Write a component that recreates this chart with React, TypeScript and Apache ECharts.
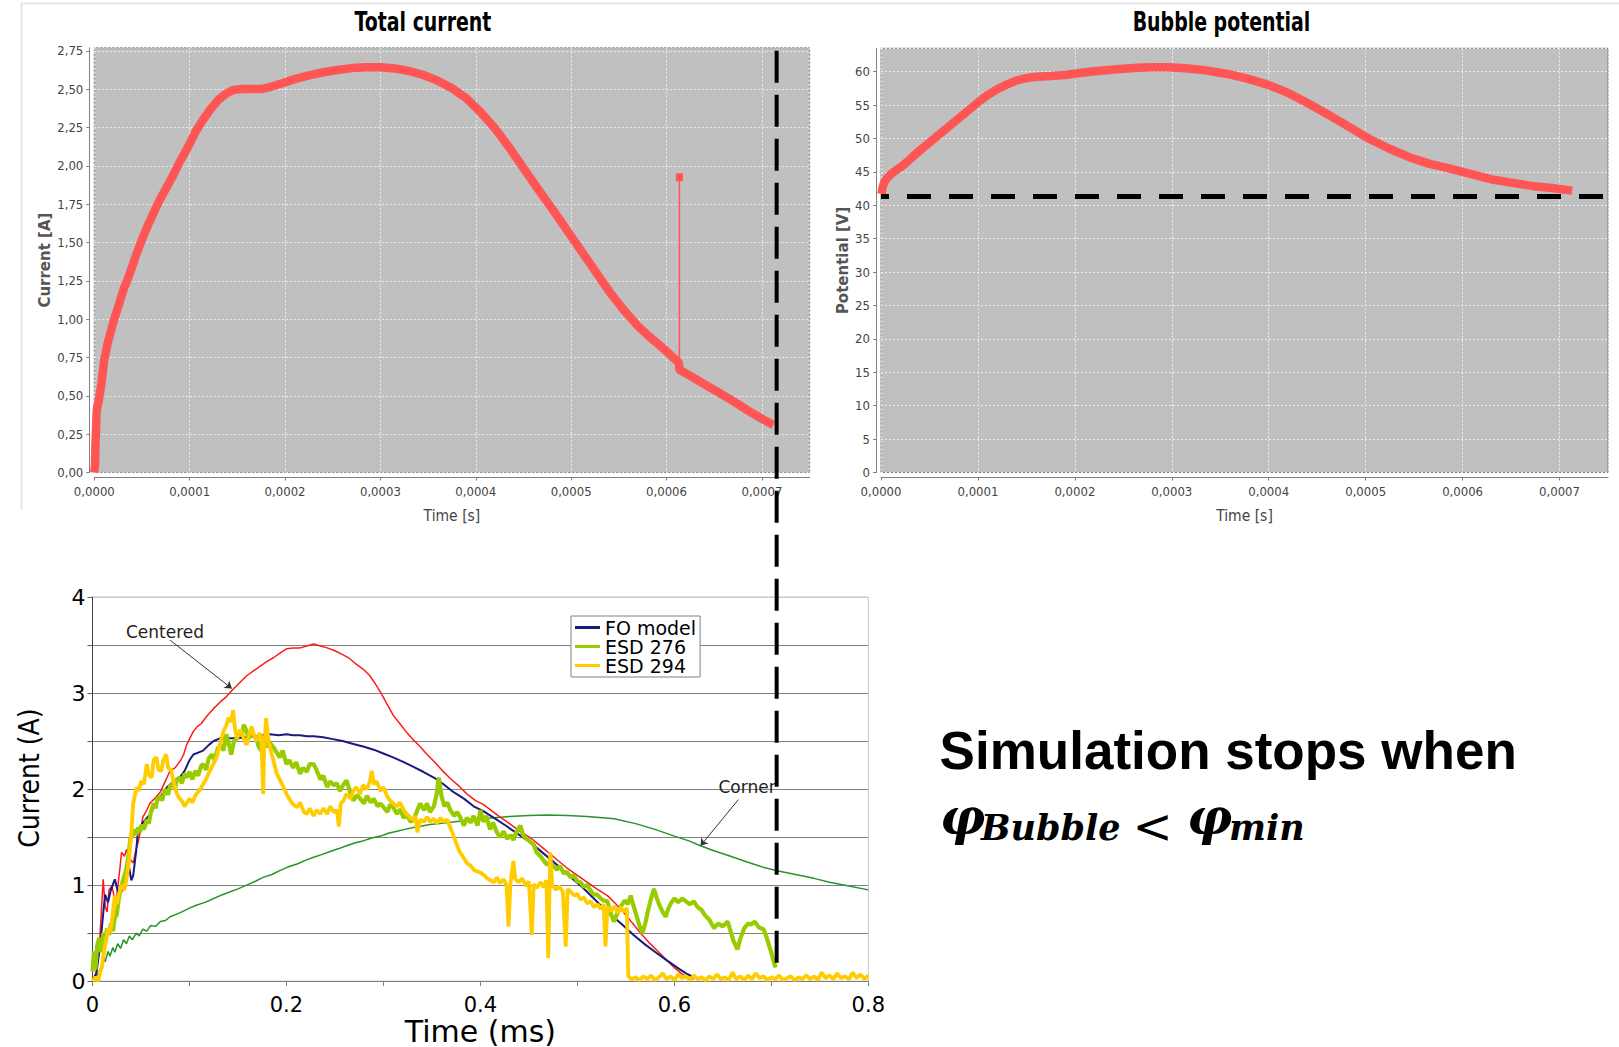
import React, { useEffect, useRef } from 'react';
import * as echarts from 'echarts';

const NARROW = "'Liberation Sans Narrow', 'DejaVu Sans Condensed', 'Arial Narrow', sans-serif";
const WIDE = "'DejaVu Sans', Verdana, sans-serif";
const ARIAL = "'Liberation Sans', Arial, sans-serif";
const SERIF = "'DejaVu Serif', 'Liberation Serif', serif";

// ---------- Top-left: Total current (time [s], current [A]) ----------
const totalCurrent: [number, number][] = [
  [0, 0.0], [0.0000008, 0.06], [0.0000012, 0.18], [0.0000018, 0.28], [0.0000025, 0.4], [0.0000035, 0.44],
  [0.0000048, 0.47], [0.000006, 0.52], [0.0000075, 0.58], [0.000009, 0.66], [0.0000105, 0.74], [0.000012, 0.78],
  [0.0000135, 0.83], [0.000016, 0.89], [0.0000195, 0.97], [0.000023, 1.04], [0.000027, 1.12], [0.000031, 1.2],
  [0.000035, 1.26], [0.000039, 1.33], [0.000044, 1.42], [0.00005, 1.52], [0.000056, 1.61], [0.000062, 1.69],
  [0.000068, 1.77], [0.000075, 1.85], [0.000082, 1.93], [0.00009, 2.03], [0.000098, 2.12], [0.000106, 2.22],
  [0.000114, 2.3], [0.000122, 2.37], [0.00013, 2.43], [0.000138, 2.47], [0.000146, 2.495], [0.000155, 2.5],
  [0.000165, 2.5], [0.000175, 2.5], [0.000185, 2.515], [0.000198, 2.54], [0.00021, 2.565], [0.000225, 2.59],
  [0.00024, 2.61], [0.000255, 2.625], [0.00027, 2.637], [0.000285, 2.643], [0.0003, 2.642], [0.000315, 2.635],
  [0.00033, 2.618], [0.000345, 2.592], [0.00036, 2.555], [0.000375, 2.505], [0.00039, 2.44], [0.000405, 2.35],
  [0.00042, 2.245], [0.000435, 2.12], [0.00045, 1.985], [0.000465, 1.85], [0.00048, 1.72], [0.000495, 1.585],
  [0.00051, 1.45], [0.000525, 1.315], [0.00054, 1.18], [0.000555, 1.06], [0.00057, 0.955], [0.000585, 0.87],
  [0.0006, 0.79], [0.000613, 0.715], [0.0006135, 0.67], [0.000625, 0.63], [0.00064, 0.575], [0.000655, 0.52],
  [0.00067, 0.465], [0.000685, 0.405], [0.0007, 0.35], [0.000712, 0.31],
];
const currentSpike: [number, number][] = [[0.0006135, 0.715], [0.0006135, 1.925]];

// ---------- Top-right: Bubble potential (time [s], potential [V]) ----------
const bubblePotential: [number, number][] = [
  [0.0000005, 41.7], [0.0000015, 42.6], [0.0000025, 43.1], [0.000004, 43.6], [0.000006, 44.0], [0.00001, 44.6],
  [0.000015, 45.2], [0.000023, 46.0], [0.00003, 46.9], [0.00004, 48.2], [0.00005, 49.4], [0.00006, 50.6],
  [0.00007, 51.8], [0.00008, 53.0], [0.00009, 54.2], [0.0001, 55.4], [0.00011, 56.5], [0.00012, 57.4],
  [0.00013, 58.1], [0.00014, 58.7], [0.00015, 59.05], [0.00016, 59.25], [0.000175, 59.35], [0.00019, 59.5],
  [0.000205, 59.8], [0.00022, 60.05], [0.000235, 60.25], [0.00025, 60.45], [0.000265, 60.6], [0.00028, 60.65],
  [0.000295, 60.65], [0.000314, 60.5], [0.000335, 60.2], [0.000356, 59.7], [0.000377, 59.0], [0.000398, 58.1],
  [0.000419, 56.9], [0.00044, 55.3], [0.000461, 53.6], [0.000482, 51.8], [0.000503, 50.0], [0.000524, 48.5],
  [0.000545, 47.2], [0.000566, 46.2], [0.000587, 45.5], [0.000608, 44.7], [0.000629, 43.9], [0.00065, 43.4],
  [0.000671, 42.9], [0.000692, 42.6], [0.000713, 42.2],
];
const PHI_MIN_V = 41.3;

// ---------- Bottom: measured / FO model currents (time [ms], current [A]) ----------
const centered: [number, number][] = [
  [0, 0], [0.004, 0.1], [0.007, 0.35], [0.009, 0.7], [0.011, 1.06], [0.013, 0.78], [0.015, 0.72], [0.017, 0.95],
  [0.02, 0.99], [0.023, 0.85], [0.025, 0.89], [0.028, 1.15], [0.03, 1.34], [0.033, 1.3], [0.035, 1.37],
  [0.038, 1.28], [0.042, 1.23], [0.045, 1.38], [0.047, 1.44], [0.05, 1.6], [0.052, 1.71], [0.056, 1.78],
  [0.059, 1.85], [0.064, 1.9], [0.07, 1.97], [0.075, 2.08], [0.08, 2.19], [0.085, 2.22], [0.088, 2.26],
  [0.091, 2.3], [0.094, 2.36], [0.097, 2.46], [0.1, 2.52], [0.104, 2.6], [0.108, 2.65], [0.112, 2.68],
  [0.118, 2.76], [0.125, 2.84], [0.132, 2.91], [0.138, 2.96], [0.145, 3.04], [0.152, 3.11], [0.159, 3.18],
  [0.166, 3.23], [0.173, 3.28], [0.18, 3.33], [0.187, 3.37], [0.194, 3.42], [0.2, 3.46], [0.207, 3.47],
  [0.214, 3.47], [0.221, 3.49], [0.228, 3.51], [0.235, 3.49], [0.242, 3.47], [0.25, 3.44], [0.258, 3.4],
  [0.265, 3.36], [0.272, 3.3], [0.279, 3.25], [0.286, 3.18], [0.292, 3.09], [0.298, 2.99], [0.304, 2.88],
  [0.31, 2.77], [0.317, 2.68], [0.324, 2.59], [0.331, 2.51], [0.338, 2.44], [0.345, 2.36], [0.352, 2.29],
  [0.36, 2.2], [0.369, 2.11], [0.378, 2.03], [0.386, 1.95], [0.395, 1.88], [0.403, 1.84], [0.412, 1.77],
  [0.42, 1.71], [0.43, 1.64], [0.441, 1.56], [0.452, 1.49], [0.464, 1.39], [0.476, 1.29], [0.489, 1.18],
  [0.5, 1.1], [0.51, 1.03], [0.52, 0.96], [0.531, 0.89], [0.54, 0.8], [0.549, 0.7], [0.558, 0.59],
  [0.566, 0.49], [0.575, 0.39], [0.584, 0.3], [0.593, 0.21], [0.6, 0.14], [0.607, 0.08], [0.613, 0.04],
  [0.62, 0.02],
];
const foModel: [number, number][] = [
  [0, 0], [0.004, 0.08], [0.008, 0.38], [0.011, 0.7], [0.013, 0.9], [0.016, 0.82], [0.019, 0.95], [0.023, 1.06],
  [0.027, 0.9], [0.032, 0.96], [0.035, 1.2], [0.037, 1.23], [0.04, 1.05], [0.042, 1.1], [0.045, 1.35],
  [0.047, 1.58], [0.05, 1.62], [0.052, 1.65], [0.058, 1.72], [0.066, 1.85], [0.072, 1.95], [0.077, 2.02],
  [0.084, 2.08], [0.09, 2.12], [0.095, 2.19], [0.1, 2.3], [0.104, 2.36], [0.109, 2.38], [0.114, 2.4],
  [0.12, 2.46], [0.125, 2.5], [0.132, 2.53], [0.14, 2.53], [0.149, 2.53], [0.158, 2.54], [0.166, 2.55],
  [0.175, 2.56], [0.183, 2.57], [0.192, 2.56], [0.2, 2.57], [0.207, 2.56], [0.214, 2.56], [0.221, 2.55],
  [0.228, 2.55], [0.238, 2.54], [0.248, 2.52], [0.258, 2.5], [0.269, 2.47], [0.28, 2.44], [0.29, 2.41],
  [0.3, 2.37], [0.31, 2.33], [0.321, 2.28], [0.331, 2.23], [0.341, 2.18], [0.352, 2.12], [0.362, 2.05],
  [0.372, 1.97], [0.383, 1.9], [0.393, 1.82], [0.403, 1.77], [0.414, 1.7], [0.426, 1.62], [0.439, 1.53],
  [0.452, 1.44], [0.465, 1.33], [0.478, 1.22], [0.491, 1.1], [0.505, 0.98], [0.518, 0.85], [0.531, 0.72],
  [0.545, 0.6], [0.558, 0.48], [0.57, 0.38], [0.582, 0.29], [0.593, 0.21], [0.603, 0.14], [0.612, 0.08],
  [0.62, 0.04],
];
const corner: [number, number][] = [
  [0, 0], [0.005, 0.06], [0.008, 0.12], [0.011, 0.25], [0.013, 0.2], [0.016, 0.31], [0.018, 0.26], [0.021, 0.35],
  [0.023, 0.3], [0.026, 0.39], [0.029, 0.34], [0.032, 0.43], [0.035, 0.39], [0.038, 0.47], [0.041, 0.43],
  [0.045, 0.5], [0.048, 0.47], [0.052, 0.54], [0.056, 0.52], [0.06, 0.58], [0.065, 0.57], [0.07, 0.62],
  [0.075, 0.63], [0.08, 0.67], [0.09, 0.71], [0.1, 0.76], [0.107, 0.79], [0.116, 0.82], [0.125, 0.86],
  [0.134, 0.9], [0.142, 0.93], [0.15, 0.96], [0.159, 1.0], [0.168, 1.04], [0.176, 1.08], [0.185, 1.11],
  [0.193, 1.15], [0.202, 1.19], [0.211, 1.22], [0.22, 1.26], [0.228, 1.29], [0.237, 1.32], [0.245, 1.35],
  [0.254, 1.38], [0.262, 1.41], [0.271, 1.44], [0.279, 1.46], [0.288, 1.49], [0.297, 1.51], [0.305, 1.54],
  [0.314, 1.56], [0.322, 1.58], [0.331, 1.6], [0.348, 1.63], [0.365, 1.65], [0.383, 1.67], [0.4, 1.69],
  [0.414, 1.7], [0.43, 1.715], [0.45, 1.725], [0.469, 1.73], [0.49, 1.725], [0.51, 1.715], [0.538, 1.69],
  [0.56, 1.64], [0.58, 1.58], [0.6, 1.51], [0.615, 1.46], [0.627, 1.41], [0.64, 1.36], [0.655, 1.31],
  [0.675, 1.24], [0.69, 1.19], [0.706, 1.15], [0.725, 1.11], [0.744, 1.07], [0.76, 1.03], [0.78, 0.99],
  [0.8, 0.95],
];
const esd276: [number, number][] = [
  [0, 0.1], [0.0015, 0.31], [0.003, 0.12], [0.005, 0.38], [0.007, 0.45], [0.009, 0.3], [0.011, 0.5], [0.013, 0.42],
  [0.015, 0.55], [0.017, 0.48], [0.019, 0.6], [0.021, 0.52], [0.023, 0.66], [0.025, 0.69], [0.027, 0.85],
  [0.029, 0.95], [0.031, 1.03], [0.033, 1.1], [0.035, 1.17], [0.037, 1.3], [0.039, 1.48], [0.041, 1.52],
  [0.043, 1.58], [0.045, 1.52], [0.047, 1.6], [0.049, 1.55], [0.051, 1.63], [0.053, 1.58], [0.056, 1.68],
  [0.058, 1.64], [0.06, 1.75], [0.063, 1.85], [0.065, 1.8], [0.067, 1.9], [0.07, 1.92], [0.072, 1.88],
  [0.074, 1.98], [0.076, 1.99], [0.078, 1.94], [0.08, 2.04], [0.083, 2.05], [0.085, 2.0], [0.087, 2.1],
  [0.09, 2.12], [0.092, 2.06], [0.095, 2.16], [0.097, 2.12], [0.1, 2.18], [0.103, 2.1], [0.106, 2.19],
  [0.109, 2.14], [0.112, 2.24], [0.114, 2.26], [0.117, 2.2], [0.12, 2.32], [0.123, 2.36], [0.126, 2.3],
  [0.129, 2.42], [0.132, 2.46], [0.135, 2.4], [0.138, 2.57], [0.141, 2.45], [0.143, 2.36], [0.146, 2.5],
  [0.149, 2.53], [0.152, 2.6], [0.154, 2.55], [0.156, 2.67], [0.159, 2.6], [0.161, 2.52], [0.163, 2.6],
  [0.166, 2.56], [0.169, 2.53], [0.171, 2.45], [0.174, 2.4], [0.177, 2.5], [0.18, 2.44], [0.183, 2.48],
  [0.187, 2.43], [0.19, 2.38], [0.193, 2.33], [0.196, 2.4], [0.2, 2.26], [0.203, 2.3], [0.207, 2.22],
  [0.21, 2.28], [0.214, 2.16], [0.217, 2.22], [0.221, 2.18], [0.224, 2.26], [0.228, 2.26], [0.231, 2.2],
  [0.235, 2.1], [0.238, 2.14], [0.242, 2.02], [0.245, 2.08], [0.249, 2.04], [0.252, 2.06], [0.255, 1.98],
  [0.259, 2.05], [0.262, 2.09], [0.266, 1.96], [0.269, 1.88], [0.273, 1.94], [0.276, 1.9], [0.28, 1.85],
  [0.283, 1.93], [0.287, 1.86], [0.29, 1.9], [0.294, 1.82], [0.297, 1.85], [0.301, 1.8], [0.304, 1.76],
  [0.307, 1.84], [0.31, 1.81], [0.314, 1.74], [0.317, 1.79], [0.321, 1.7], [0.324, 1.74], [0.328, 1.66],
  [0.331, 1.68], [0.335, 1.78], [0.338, 1.85], [0.342, 1.78], [0.345, 1.85], [0.348, 1.76], [0.352, 1.82],
  [0.355, 1.95], [0.357, 2.12], [0.36, 1.92], [0.363, 1.82], [0.366, 1.86], [0.369, 1.78], [0.373, 1.72],
  [0.376, 1.76], [0.379, 1.71], [0.383, 1.62], [0.386, 1.7], [0.39, 1.65], [0.393, 1.72], [0.397, 1.62],
  [0.4, 1.78], [0.403, 1.66], [0.406, 1.72], [0.41, 1.58], [0.413, 1.65], [0.417, 1.55], [0.42, 1.5],
  [0.424, 1.56], [0.4275, 1.48], [0.431, 1.52], [0.434, 1.47], [0.437, 1.55], [0.4413, 1.62], [0.444, 1.52],
  [0.448, 1.48], [0.4516, 1.45], [0.455, 1.42], [0.458, 1.34], [0.462, 1.3], [0.465, 1.26], [0.4688, 1.21],
  [0.472, 1.24], [0.475, 1.2], [0.479, 1.16], [0.482, 1.2], [0.486, 1.12], [0.489, 1.14], [0.493, 1.08],
  [0.496, 1.1], [0.5, 1.04], [0.503, 1.03], [0.507, 0.98], [0.51, 1.0], [0.514, 0.94], [0.517, 0.9],
  [0.5204, 0.9], [0.524, 0.86], [0.527, 0.84], [0.531, 0.83], [0.534, 0.72], [0.5376, 0.62], [0.541, 0.7],
  [0.545, 0.78], [0.549, 0.84], [0.552, 0.8], [0.555, 0.89], [0.558, 0.78], [0.561, 0.68], [0.564, 0.58],
  [0.567, 0.5], [0.57, 0.6], [0.573, 0.74], [0.576, 0.86], [0.579, 0.96], [0.582, 0.86], [0.585, 0.78],
  [0.588, 0.72], [0.591, 0.67], [0.594, 0.76], [0.597, 0.82], [0.6, 0.86], [0.604, 0.82], [0.608, 0.86],
  [0.612, 0.83], [0.616, 0.8], [0.62, 0.83], [0.624, 0.77], [0.628, 0.74], [0.632, 0.68], [0.636, 0.64],
  [0.641, 0.55], [0.645, 0.6], [0.65, 0.57], [0.655, 0.62], [0.658, 0.52], [0.661, 0.42], [0.665, 0.33],
  [0.668, 0.44], [0.672, 0.55], [0.676, 0.6], [0.679, 0.59], [0.683, 0.62], [0.687, 0.56], [0.692, 0.54],
  [0.695, 0.46], [0.698, 0.36], [0.7, 0.3], [0.702, 0.22], [0.7044, 0.14],
];
const esd294: [number, number][] = [
  [0, 0], [0.003, 0.04], [0.006, 0], [0.008, 0.1], [0.0096, 0.14], [0.011, 0.25], [0.013, 0.38], [0.015, 0.48],
  [0.016, 0.55], [0.018, 0.5], [0.02, 0.62], [0.023, 0.89], [0.025, 0.8], [0.027, 0.9], [0.03, 1.0],
  [0.033, 0.95], [0.035, 1.06], [0.037, 1.2], [0.039, 1.41], [0.041, 1.7], [0.042, 1.85], [0.044, 1.95],
  [0.046, 2.02], [0.048, 1.98], [0.05, 2.08], [0.053, 2.05], [0.056, 2.26], [0.058, 2.15], [0.061, 2.12],
  [0.063, 2.3], [0.066, 2.33], [0.068, 2.2], [0.071, 2.19], [0.073, 2.3], [0.076, 2.36], [0.078, 2.22],
  [0.081, 2.2], [0.084, 2.06], [0.087, 1.95], [0.09, 1.9], [0.092, 1.88], [0.095, 1.82], [0.097, 1.85],
  [0.1, 1.9], [0.103, 1.86], [0.107, 1.95], [0.11, 1.98], [0.114, 2.05], [0.117, 2.1], [0.121, 2.19],
  [0.124, 2.25], [0.128, 2.33], [0.131, 2.45], [0.135, 2.6], [0.138, 2.66], [0.14, 2.74], [0.143, 2.7],
  [0.145, 2.82], [0.147, 2.62], [0.149, 2.53], [0.152, 2.62], [0.154, 2.58], [0.157, 2.5], [0.159, 2.46],
  [0.162, 2.58], [0.164, 2.65], [0.167, 2.55], [0.169, 2.5], [0.172, 2.58], [0.174, 2.55], [0.176, 1.95],
  [0.177, 2.4], [0.179, 2.74], [0.181, 2.55], [0.183, 2.43], [0.186, 2.32], [0.19, 2.16], [0.193, 2.1],
  [0.197, 2.02], [0.2, 1.95], [0.204, 1.88], [0.207, 1.84], [0.211, 1.81], [0.214, 1.86], [0.218, 1.76],
  [0.221, 1.74], [0.224, 1.8], [0.228, 1.72], [0.231, 1.78], [0.235, 1.74], [0.238, 1.8], [0.242, 1.74],
  [0.245, 1.82], [0.249, 1.76], [0.252, 1.78], [0.254, 1.61], [0.256, 1.85], [0.259, 1.88], [0.262, 1.95],
  [0.266, 1.9], [0.269, 1.98], [0.272, 2.02], [0.276, 1.95], [0.279, 2.04], [0.283, 2.0], [0.286, 2.08],
  [0.288, 2.19], [0.29, 2.05], [0.293, 2.08], [0.297, 1.98], [0.3, 2.02], [0.304, 1.92], [0.307, 1.88],
  [0.31, 1.85], [0.314, 1.82], [0.317, 1.86], [0.321, 1.78], [0.324, 1.74], [0.328, 1.7], [0.331, 1.68],
  [0.333, 1.72], [0.335, 1.55], [0.338, 1.68], [0.342, 1.66], [0.345, 1.71], [0.348, 1.66], [0.352, 1.69],
  [0.355, 1.64], [0.359, 1.7], [0.362, 1.66], [0.366, 1.68], [0.369, 1.6], [0.372, 1.52], [0.376, 1.41],
  [0.379, 1.34], [0.383, 1.28], [0.386, 1.23], [0.39, 1.2], [0.393, 1.16], [0.397, 1.14], [0.4, 1.13],
  [0.404, 1.1], [0.407, 1.07], [0.41, 1.05], [0.414, 1.03], [0.417, 1.08], [0.42, 1.02], [0.424, 1.06],
  [0.427, 1.0], [0.429, 0.57], [0.431, 1.02], [0.434, 1.25], [0.436, 1.06], [0.44, 1.03], [0.443, 1.07],
  [0.447, 0.99], [0.45, 1.04], [0.453, 0.48], [0.455, 1.01], [0.458, 0.97], [0.462, 1.03], [0.465, 0.98],
  [0.468, 1.05], [0.47, 0.24], [0.472, 1.34], [0.474, 1.0], [0.478, 0.95], [0.481, 0.99], [0.485, 0.93],
  [0.488, 0.36], [0.49, 0.96], [0.494, 0.92], [0.497, 0.89], [0.5, 0.91], [0.503, 0.85], [0.507, 0.87],
  [0.51, 0.81], [0.514, 0.83], [0.517, 0.77], [0.521, 0.8], [0.524, 0.75], [0.527, 0.8], [0.529, 0.36],
  [0.531, 0.77], [0.535, 0.73], [0.538, 0.78], [0.542, 0.71], [0.545, 0.77], [0.548, 0.72], [0.551, 0.76],
  [0.5525, 0.05], [0.556, 0.02], [0.56, 0.04], [0.564, 0.01], [0.568, 0.05], [0.572, 0.02], [0.576, 0.06],
  [0.58, 0.01], [0.584, 0.04], [0.588, 0.08], [0.592, 0.02], [0.596, 0.05], [0.6, 0.01], [0.604, 0.07],
  [0.608, 0.03], [0.612, 0.05], [0.616, 0.01], [0.62, 0.06], [0.624, 0.02], [0.628, 0.04], [0.632, 0.01],
  [0.636, 0.05], [0.64, 0.02], [0.644, 0.07], [0.648, 0.02], [0.652, 0.04], [0.656, 0.01], [0.66, 0.09],
  [0.664, 0.02], [0.668, 0.05], [0.672, 0.01], [0.676, 0.06], [0.68, 0.02], [0.684, 0.08], [0.688, 0.03],
  [0.692, 0.05], [0.696, 0.01], [0.7, 0.04], [0.704, 0.02], [0.708, 0.06], [0.712, 0.01], [0.716, 0.03],
  [0.72, 0.05], [0.724, 0.01], [0.728, 0.04], [0.732, 0.02], [0.736, 0.06], [0.74, 0.02], [0.744, 0.05],
  [0.748, 0.01], [0.752, 0.09], [0.756, 0.03], [0.76, 0.06], [0.764, 0.02], [0.768, 0.08], [0.772, 0.03],
  [0.776, 0.05], [0.78, 0.02], [0.784, 0.09], [0.788, 0.03], [0.792, 0.07], [0.796, 0.02], [0.8, 0.06],
];

// annotations (data coordinates of the bottom chart)
const CENTERED_LABEL: [number, number] = [0.0748, 3.64];
const CENTERED_ARROW: [number, number][] = [[0.08, 3.551], [0.1437, 3.046]];
const CORNER_LABEL: [number, number] = [0.675, 2.02];
const CORNER_ARROW: [number, number][] = [[0.666, 1.89], [0.627, 1.41]];
const STOP_TIME_MS = 0.7055;
const STOP_LINE_BOTTOM_A = 0.1;
const STOP_LINE_TOP_A = 2.75;

const LEGEND_NAMES = ['FO model', 'ESD 276', 'ESD 294'];
const TITLES = ['Total current', 'Bubble potential'];

const comma = (v: number, d: number) => v.toFixed(d).replace('.', ',');

const jfAxisLine = { show: true, onZero: false, lineStyle: { color: '#808080', width: 1 } };
const jfTick = { show: true, length: 3, lineStyle: { color: '#808080' } };
const jfSplit = { show: true, lineStyle: { color: '#ececec', type: [2, 2] as any, width: 1 } };
const jfLabel = { color: '#444', fontFamily: NARROW, fontSize: 13 };
const jfName = { fontFamily: NARROW, fontSize: 15.5, color: '#444' };

function buildOption(): any {
  const lineSeries = (name: string, data: any, color: string, width: number, extra: any = {}) => ({
    type: 'line', name, xAxisIndex: 2, yAxisIndex: 2, data, symbol: 'none', showSymbol: false,
    lineStyle: { color, width }, itemStyle: { color }, emphasis: { disabled: true }, ...extra,
  });
  const arrow = (pts: [number, number][]) => ({
    silent: true, symbol: ['none', 'arrow'], symbolSize: 7, label: { show: false },
    lineStyle: { color: '#333', width: 1, type: 'solid' }, emphasis: { disabled: true },
    data: [[{ coord: pts[0] }, { coord: pts[1] }]],
  });
  const tag = (text: string, coord: [number, number]) => ({
    silent: true, symbol: 'circle', symbolSize: 1, itemStyle: { color: 'rgba(0,0,0,0)' },
    label: { show: true, position: 'inside', formatter: text, color: '#222', fontFamily: WIDE, fontSize: 17 },
    data: [{ coord }],
  });

  return {
    animation: false,
    backgroundColor: '#ffffff',
    legend: {
      data: LEGEND_NAMES, orient: 'vertical', left: 571, top: 616, icon: 'rect', itemWidth: 25, itemHeight: 3,
      itemGap: 0, padding: [2, 4, 2, 4], backgroundColor: '#ffffff', borderColor: '#808080', borderWidth: 1,
      borderRadius: 0, selectedMode: false, textStyle: { fontFamily: WIDE, fontSize: 19, color: '#000' },
    },
    grid: [
      { left: 94.3, top: 47.7, width: 715.3, height: 424.8, show: true, backgroundColor: '#c0c0c0', borderColor: '#808080', borderWidth: 1 },
      { left: 881, top: 48.3, width: 727, height: 424.2, show: true, backgroundColor: '#c0c0c0', borderColor: '#808080', borderWidth: 1 },
      { left: 92.5, top: 597, width: 775.8, height: 390.3, show: true, backgroundColor: 'rgba(0,0,0,0)', borderColor: '#c8c8c8', borderWidth: 1 },
    ],
    xAxis: [
      { type: 'value', gridIndex: 0, min: 0, max: 0.00075, interval: 0.0001, offset: 5,
        axisLine: jfAxisLine, axisTick: jfTick, splitLine: jfSplit,
        axisLabel: { ...jfLabel, margin: 7, showMaxLabel: false, formatter: (v: number) => comma(v, 4) },
        name: 'Time [s]', nameLocation: 'middle', nameGap: 30, nameTextStyle: jfName },
      { type: 'value', gridIndex: 1, min: 0, max: 0.00075, interval: 0.0001, offset: 5,
        axisLine: jfAxisLine, axisTick: jfTick, splitLine: jfSplit,
        axisLabel: { ...jfLabel, margin: 7, showMaxLabel: false, formatter: (v: number) => comma(v, 4) },
        name: 'Time [s]', nameLocation: 'middle', nameGap: 30, nameTextStyle: jfName },
      { type: 'value', gridIndex: 2, min: 0, max: 0.8, interval: 0.1,
        axisLine: { show: true, onZero: false, lineStyle: { color: '#808080', width: 1 } },
        axisTick: { show: true, length: 5, lineStyle: { color: '#808080' } },
        splitLine: { show: false },
        axisLabel: { color: '#000', fontFamily: WIDE, fontSize: 21, margin: 13,
          formatter: (v: number) => (Math.round(v * 10) % 2 === 0 ? (v === 0 ? '0' : v.toFixed(1)) : '') },
        name: 'Time (ms)', nameLocation: 'middle', nameGap: 27,
        nameTextStyle: { fontFamily: WIDE, fontSize: 30, color: '#000' } },
    ],
    yAxis: [
      { type: 'value', gridIndex: 0, min: 0, max: 2.77, interval: 0.25, offset: 5,
        axisLine: jfAxisLine, axisTick: jfTick, splitLine: jfSplit,
        axisLabel: { ...jfLabel, margin: 6, showMaxLabel: false, formatter: (v: number) => comma(v, 2) },
        name: 'Current [A]', nameLocation: 'middle', nameGap: 37,
        nameTextStyle: { fontFamily: WIDE, fontWeight: 'bold', fontSize: 15, color: '#555' } },
      { type: 'value', gridIndex: 1, min: 0, max: 63.5, interval: 5, offset: 5,
        axisLine: jfAxisLine, axisTick: jfTick, splitLine: jfSplit,
        axisLabel: { ...jfLabel, margin: 6, showMaxLabel: false, formatter: (v: number) => String(Math.round(v)) },
        name: 'Potential [V]', nameLocation: 'middle', nameGap: 26,
        nameTextStyle: { fontFamily: WIDE, fontWeight: 'bold', fontSize: 15, color: '#555' } },
      { type: 'value', gridIndex: 2, min: 0, max: 4, interval: 0.5,
        axisLine: { show: true, onZero: false, lineStyle: { color: '#404040', width: 1 } },
        axisTick: { show: true, length: 5, lineStyle: { color: '#606060' } },
        splitLine: { show: true, lineStyle: { width: 1,
          color: ['#808080', '#808080', '#808080', '#808080', '#808080', '#808080', '#808080', '#808080', '#c8c8c8'] } },
        axisLabel: { color: '#000', fontFamily: WIDE, fontSize: 22, margin: 7,
          formatter: (v: number) => (Math.abs(v - Math.round(v)) < 1e-9 ? String(Math.round(v)) : '') },
        name: 'Current (A)', nameLocation: 'middle', nameGap: 49,
        nameTextStyle: { fontFamily: NARROW, fontSize: 28, color: '#000', padding: [0, 0, 0, 22] } },
    ],
    series: [
      { type: 'line', name: 'Total current', xAxisIndex: 0, yAxisIndex: 0, data: totalCurrent, symbol: 'none',
        showSymbol: false, lineStyle: { color: '#ff5555', width: 8.5 }, itemStyle: { color: '#ff5555' }, emphasis: { disabled: true } },
      { type: 'line', name: 'Current spike', xAxisIndex: 0, yAxisIndex: 0,
        data: [{ value: currentSpike[0], symbol: 'none' }, { value: currentSpike[1] }],
        symbol: 'rect', symbolSize: [7, 8], showSymbol: true,
        lineStyle: { color: '#ff5555', width: 1.5 }, itemStyle: { color: '#ff5555' }, emphasis: { disabled: true } },
      { type: 'line', name: 'Bubble potential', xAxisIndex: 1, yAxisIndex: 1, data: bubblePotential, symbol: 'none',
        showSymbol: false, lineStyle: { color: '#ff5555', width: 8.5 }, itemStyle: { color: '#ff5555' }, emphasis: { disabled: true },
        markLine: { silent: true, symbol: ['none', 'none'], label: { show: false }, emphasis: { disabled: true },
          lineStyle: { color: '#000', width: 5, type: [24, 18], dashOffset: 15.7 },
          data: [{ yAxis: PHI_MIN_V }] } },
      lineSeries('Corner', corner, '#2a922a', 1.5, { markLine: arrow(CORNER_ARROW), markPoint: tag('Corner', CORNER_LABEL) }),
      lineSeries('Centered', centered, '#ff1a1a', 1.5, { markLine: arrow(CENTERED_ARROW), markPoint: tag('Centered', CENTERED_LABEL) }),
      lineSeries('FO model', foModel, '#1a1a80', 2),
      lineSeries('ESD 276', esd276, '#99cc00', 4.2),
      lineSeries('ESD 294', esd294, '#ffcc00', 3.8),
    ],
  };
}

export default function App() {
  const ref = useRef<HTMLDivElement>(null);
  useEffect(() => {
    if (!ref.current) return;
    const chart = echarts.init(ref.current, undefined, { renderer: 'svg' });
    chart.setOption(buildOption());

    const bottomPt = chart.convertToPixel({ gridIndex: 2 }, [STOP_TIME_MS, STOP_LINE_BOTTOM_A]) as number[];
    const topPt = chart.convertToPixel({ gridIndex: 0 }, [0, STOP_LINE_TOP_A]) as number[];
    const x = bottomPt[0];

    const phiFont = { fontFamily: SERIF, fontStyle: 'italic', fontWeight: 'bold', fill: '#000' };
    const titleStyle = { fontFamily: NARROW, fontWeight: 'bold', fontSize: 26, fill: '#000', align: 'center', verticalAlign: 'middle' };
    chart.setOption({
      graphic: {
        elements: [
          { type: 'polyline', silent: true, z: 1,
            shape: { points: [[21.5, 510], [21.5, 3.5], [1619, 3.5]] },
            style: { stroke: '#e6e6e6', lineWidth: 2, fill: 'none' } },
          { type: 'text', silent: true, x: 423, y: 22.5, scaleX: 0.81, style: { text: TITLES[0], ...titleStyle } },
          { type: 'text', silent: true, x: 1221.5, y: 22.5, scaleX: 0.81, style: { text: TITLES[1], ...titleStyle } },
          { type: 'line', silent: true, z: 100,
            shape: { x1: x, y1: topPt[1], x2: x, y2: bottomPt[1] },
            style: { stroke: '#000', lineWidth: 4, lineDash: [32, 12] } },
          { type: 'text', silent: true, x: 939.6, y: 750,
            style: { text: 'Simulation stops when', fontFamily: ARIAL, fontWeight: 'bold', fontSize: 53,
              fill: '#000', verticalAlign: 'middle', align: 'left' } },
          { type: 'text', silent: true, x: 940, y: 816,
            style: { text: 'φ', fontSize: 50, verticalAlign: 'middle', align: 'left', ...phiFont } },
          { type: 'text', silent: true, x: 981, y: 827.5,
            style: { text: 'Bubble', fontSize: 35, verticalAlign: 'middle', align: 'left', ...phiFont } },
          { type: 'text', silent: true, x: 1152.5, y: 826,
            style: { text: '<', fontFamily: WIDE, fontSize: 48, fill: '#000', verticalAlign: 'middle', align: 'center' } },
          { type: 'text', silent: true, x: 1187, y: 816,
            style: { text: 'φ', fontSize: 50, verticalAlign: 'middle', align: 'left', ...phiFont } },
          { type: 'text', silent: true, x: 1229, y: 827.5,
            style: { text: 'min', fontSize: 35, verticalAlign: 'middle', align: 'left', ...phiFont } },
        ],
      },
    });
    return () => chart.dispose();
  }, []);
  return (
    <div
      ref={ref}
      style={{ position: 'absolute', left: 0, top: 0, width: 1619, height: 1047, background: '#ffffff' }}
    />
  );
}
